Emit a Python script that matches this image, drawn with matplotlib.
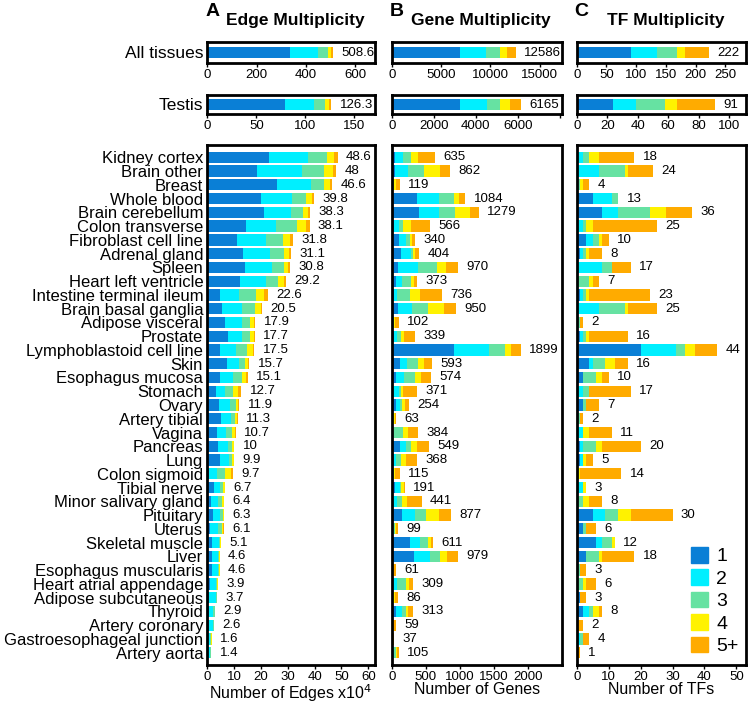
import numpy as np
import matplotlib.pyplot as plt
from matplotlib.patches import Patch

plt.rcParams['font.family'] = ['Liberation Sans', 'DejaVu Sans']

tissues = ['Kidney cortex', 'Brain other', 'Breast', 'Whole blood', 'Brain cerebellum',
           'Colon transverse', 'Fibroblast cell line', 'Adrenal gland', 'Spleen',
           'Heart left ventricle', 'Intestine terminal ileum', 'Brain basal ganglia',
           'Adipose visceral', 'Prostate', 'Lymphoblastoid cell line', 'Skin',
           'Esophagus mucosa', 'Stomach', 'Ovary', 'Artery tibial', 'Vagina', 'Pancreas',
           'Lung', 'Colon sigmoid', 'Tibial nerve', 'Minor salivary gland', 'Pituitary',
           'Uterus', 'Skeletal muscle', 'Liver', 'Esophagus muscularis',
           'Heart atrial appendage', 'Adipose subcutaneous', 'Thyroid', 'Artery coronary',
           'Gastroesophageal junction', 'Artery aorta']
levels = ['1', '2', '3', '4', '5+']
colors = ['#0a7fd6', '#00efff', '#66e2a2', '#fff200', '#ffab00']

# Edge multiplicity (x10^4)
edge_1 = [23.0, 18.7, 26.1, 20.0, 21.3, 14.3, 11.2, 13.2, 13.9, 12.2, 4.7, 5.6, 6.6, 7.8, 4.7, 7.5,
          4.7, 3.1, 4.4, 5.1, 3.5, 4.1, 4.7, 0.6, 2.5, 1.2, 2.2, 1.0, 1.6, 1.9, 1.9, 1.0, 0.8, 0.6,
          0.6, 0.3, 0.3]
edge_2 = [14.4, 16.5, 12.5, 11.5, 9.8, 11.3, 10.6, 10.2, 10.2, 9.7, 7.1, 7.2, 6.2, 5.0, 6.0, 4.4,
          5.0, 3.5, 4.1, 3.7, 3.5, 3.7, 3.5, 2.9, 2.2, 2.9, 2.5, 3.1, 2.7, 2.0, 2.0, 2.1, 2.3, 1.5,
          1.4, 0.7, 0.6]
edge_3 = [7.1, 8.3, 4.9, 5.3, 4.7, 7.7, 6.3, 5.0, 4.3, 4.6, 6.4, 5.0, 3.1, 3.1, 4.2, 2.2, 3.1, 3.1,
          2.1, 1.5, 2.3, 1.5, 1.1, 3.2, 1.3, 1.5, 1.0, 1.4, 0.6, 0.5, 0.5, 0.6, 0.4, 0.6, 0.4, 0.4,
          0.3]
edge_4 = [2.9, 3.3, 2.3, 2.1, 1.9, 3.5, 2.7, 2.1, 1.8, 1.9, 2.9, 2.1, 1.5, 1.5, 2.0, 1.2, 1.6, 1.9,
          1.0, 0.9, 1.1, 0.5, 0.5, 2.0, 0.6, 0.7, 0.5, 0.5, 0.2, 0.2, 0.2, 0.2, 0.2, 0.2, 0.2, 0.2,
          0.2]
edge_5 = [1.2, 1.2, 0.8, 0.9, 0.6, 1.3, 1.0, 0.6, 0.6, 0.8, 1.5, 0.6, 0.5, 0.3, 0.6, 0.4, 0.7, 1.1,
          0.3, 0.1, 0.3, 0.2, 0.1, 1.0, 0.1, 0.1, 0.1, 0.1, 0.05, 0.05, 0.05, 0.05, 0.05, 0.05,
          0.05, 0.05, 0.05]
edge_labels = [48.6, 48, 46.6, 39.8, 38.3, 38.1, 31.8, 31.1, 30.8, 29.2, 22.6, 20.5, 17.9, 17.7,
               17.5, 15.7, 15.1, 12.7, 11.9, 11.3, 10.7, 10, 9.9, 9.7, 6.7, 6.4, 6.3, 6.1, 5.1,
               4.6, 4.6, 3.9, 3.7, 2.9, 2.6, 1.6, 1.4]

# Gene multiplicity
gene_1 = [49, 49, 3, 379, 408, 34, 113, 133, 98, 64, 34, 89, 0, 34, 918, 118, 69, 20, 69, 3, 0,
          118, 30, 0, 44, 20, 148, 0, 271, 328, 0, 0, 0, 64, 0, 0, 0]
gene_2 = [123, 187, 22, 320, 291, 79, 99, 152, 296, 93, 40, 206, 25, 40, 519, 113, 108, 88, 49, 7,
          10, 98, 39, 25, 74, 59, 196, 25, 147, 236, 3, 74, 10, 84, 3, 0, 34]
gene_3 = [113, 246, 9, 211, 236, 59, 59, 25, 270, 123, 197, 246, 14, 64, 224, 158, 163, 35, 39, 8,
          157, 74, 74, 5, 25, 78, 163, 19, 123, 145, 3, 138, 10, 64, 5, 2, 30]
gene_4 = [109, 231, 25, 74, 211, 108, 34, 34, 138, 55, 147, 231, 15, 49, 97, 83, 98, 24, 35, 35,
          74, 89, 73, 20, 34, 69, 182, 20, 39, 101, 10, 49, 25, 24, 11, 5, 20]
gene_5 = [241, 149, 60, 100, 133, 286, 35, 60, 168, 38, 318, 178, 48, 152, 141, 121, 136, 204, 62,
          10, 143, 170, 152, 65, 14, 215, 188, 35, 31, 169, 45, 48, 41, 77, 40, 30, 21]
gene_labels = [635, 862, 119, 1084, 1279, 566, 340, 404, 970, 373, 736, 950, 102, 339, 1899, 593,
               574, 371, 254, 63, 384, 549, 368, 115, 191, 441, 877, 99, 611, 979, 61, 309, 86,
               313, 59, 37, 105]

# TF multiplicity
tf_1 = [0, 0, 0, 5, 8, 0, 3, 1, 0, 0, 1, 0, 0, 1, 20, 4, 2, 0, 2, 0, 0, 1, 1, 0, 0, 0, 5, 2, 6, 3,
        0, 0, 1, 2, 0, 0, 0]
tf_2 = [2, 7, 0, 6, 5, 2, 2, 1, 8, 0, 1, 7, 0, 1, 11, 1, 0, 2, 0, 0, 2, 1, 1, 0, 2, 0, 4, 0, 2, 0,
        0, 0, 0, 2, 0, 1, 0]
tf_3 = [2, 8, 1, 2, 10, 1, 2, 1, 3, 4, 1, 8, 1, 1, 3, 4, 4, 2, 1, 1, 0, 4, 0, 0, 0, 2, 4, 1, 3, 4,
        1, 2, 0, 1, 0, 1, 0]
tf_4 = [3, 1, 1, 0, 5, 2, 1, 1, 0, 1, 1, 1, 0, 1, 3, 3, 2, 0, 0, 0, 2, 2, 1, 1, 1, 2, 4, 0, 1, 1,
        0, 1, 0, 2, 0, 0, 0]
tf_5 = [11, 8, 2, 0, 8, 20, 2, 4, 6, 2, 19, 9, 1, 12, 7, 4, 2, 13, 4, 1, 7, 12, 2, 13, 0, 4, 13, 3,
        0, 10, 2, 3, 2, 1, 2, 2, 1]
tf_labels = [18, 24, 4, 13, 36, 25, 10, 8, 17, 7, 23, 25, 2, 16, 44, 16, 10, 17, 7, 2, 11, 20, 5,
             14, 3, 8, 30, 6, 12, 18, 3, 6, 3, 8, 2, 4, 1]

# All tissues / Testis summary bars
all_edge = [334, 114, 40, 14, 6.6]
testis_edge = [79, 30, 11.5, 3.5, 2.3]
all_gene = [6950, 2650, 1360, 790, 836]
testis_gene = [3250, 1280, 620, 500, 515]
all_tf = [91, 44, 34, 13, 40]
testis_tf = [24, 15, 19, 8, 25]
summary_labels = {'edge': (508.6, 126.3), 'gene': (12586, 6165), 'tf': (222, 91)}


def draw_stack(ax, segs, ypos, height, labels):
    left = np.zeros(len(ypos))
    for vals, c in zip(segs, colors):
        vals = np.asarray(vals, dtype=float)
        ax.barh(ypos, vals, left=left, height=height, color=c, linewidth=0)
        left += vals
    for y, tot, lab in zip(ypos, left, labels):
        ax.annotate(f'{lab:g}', (tot, y), xytext=(6, 0), textcoords='offset points',
                    va='center', ha='left', fontsize=9.5)


def style_box(ax):
    for s in ax.spines.values():
        s.set_linewidth(2)
    ax.tick_params(axis='x', labelsize=9.5, length=3, width=1, pad=1.5)
    ax.tick_params(axis='y', length=0)


W, H = 750, 703
fig = plt.figure(figsize=(7.5, 7.03), dpi=100)

cols = [(207.3, 375.0), (391.7, 561.7), (576.7, 746.0)]
main_y = (145, 665)
all_y = (42, 63)
testis_y = (95, 114)


def add_ax(xr, yr):
    return fig.add_axes([xr[0] / W, 1 - yr[1] / H, (xr[1] - xr[0]) / W, (yr[1] - yr[0]) / H])


main_data = [
    ([edge_1, edge_2, edge_3, edge_4, edge_5], edge_labels, 62.5, range(0, 61, 10),
     'Number of Edges x10$^4$'),
    ([gene_1, gene_2, gene_3, gene_4, gene_5], gene_labels, 2500, range(0, 2001, 500),
     'Number of Genes'),
    ([tf_1, tf_2, tf_3, tf_4, tf_5], tf_labels, 53, range(0, 51, 10), 'Number of TFs'),
]
top_data = [
    (all_edge, testis_edge, 'edge', 680, [0, 200, 400, 600], 171, [0, 50, 100, 150]),
    (all_gene, testis_gene, 'gene', 17250, [0, 5000, 10000, 15000], 8100,
     [0, 2000, 4000, 6000, 8000]),
    (all_tf, testis_tf, 'tf', 285, [0, 50, 100, 150, 200, 250], 111, [0, 20, 40, 60, 80, 100]),
]
titles = ['Edge Multiplicity', 'Gene Multiplicity', 'TF Multiplicity']
letters = ['A', 'B', 'C']

n = len(tissues)
ypos = np.arange(n)
for i, (xr, (segs, labs, xmax, ticks, xlabel)) in enumerate(zip(cols, main_data)):
    ax = add_ax(xr, main_y)
    draw_stack(ax, segs, ypos, 0.82, labs)
    ax.set_xlim(0, xmax)
    ax.set_ylim(n - 1 + 0.894, -0.894)
    ax.set_xticks(list(ticks))
    ax.set_xlabel(xlabel, fontsize=11.5, va='top')
    ax.xaxis.set_label_coords(0.5, -17.5 / 520)
    style_box(ax)
    if i == 0:
        ax.set_yticks(ypos)
        ax.set_yticklabels(tissues, fontsize=12)
        ax.tick_params(axis='y', pad=3)
    else:
        ax.set_yticks([])
    if i == 2:
        handles = [Patch(color=c, label=l) for c, l in zip(colors, levels)]
        ax.legend(handles=handles, loc='upper left', bbox_to_anchor=(691 / W, 1 - 547 / H),
                  bbox_transform=fig.transFigure, frameon=False, fontsize=14,
                  handlelength=0.85, handleheight=0.85, labelspacing=0.2,
                  handletextpad=0.45, borderpad=0, borderaxespad=0)

    all_vals, test_vals, key, xa, ta, xt, tt = top_data[i]
    for vals, yr, lab, xm, tk, name in [(all_vals, all_y, summary_labels[key][0], xa, ta, 'All tissues'),
                                        (test_vals, testis_y, summary_labels[key][1], xt, tt, 'Testis')]:
        tax = add_ax(xr, yr)
        draw_stack(tax, [[v] for v in vals], [0], 0.55, [lab])
        tax.set_xlim(0, xm)
        tax.set_ylim(-0.5, 0.5)
        tax.set_xticks(tk)
        if key == 'gene' and name == 'Testis':
            tax.set_xticklabels(['0', '2000', '4000', '6000', ''])
        style_box(tax)
        if i == 0:
            tax.set_yticks([0])
            tax.set_yticklabels([name], fontsize=12.5)
            tax.tick_params(axis='y', pad=3)
        else:
            tax.set_yticks([])

    cx = (xr[0] + xr[1]) / 2 / W
    fig.text(cx + 4 / W, 1 - 20 / H, titles[i], ha='center', va='center', fontsize=12.5,
             fontweight='bold')
    fig.text((xr[0] - 2) / W, 1 - 12 / H, letters[i], ha='left', va='center', fontsize=14,
             fontweight='bold')

fig.savefig('out.png', dpi=100)
